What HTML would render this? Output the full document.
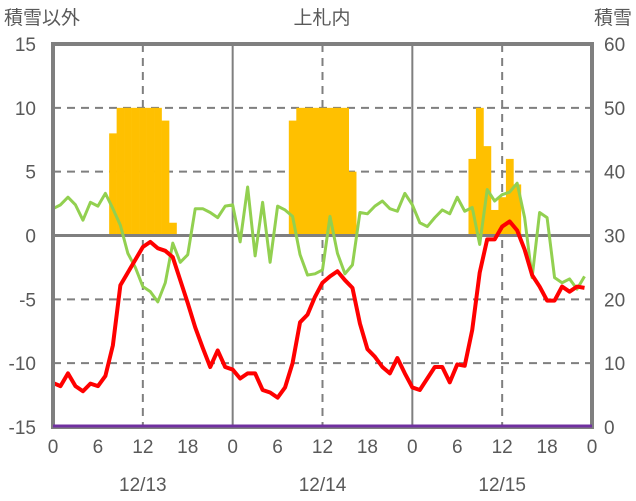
<!DOCTYPE html>
<html><head><meta charset="utf-8"><style>
html,body{margin:0;padding:0;background:#fff;width:636px;height:501px;overflow:hidden}
text{font-family:"Liberation Sans","Noto Sans CJK JP",sans-serif;fill:#595959;font-size:19px}
</style></head><body>
<svg id="chart" width="636" height="501" viewBox="0 0 636 501" xmlns="http://www.w3.org/2000/svg">
<text x="4" y="24" style="font-family:'Noto Sans CJK JP',sans-serif">積雪以外</text>
<text x="322" y="24" text-anchor="middle" style="font-family:'Noto Sans CJK JP',sans-serif">上札内</text>
<text x="632" y="24" text-anchor="end" style="font-family:'Noto Sans CJK JP',sans-serif">積雪</text>
<g id="grid"></g><g id="bars"></g><g id="lines"></g><g id="frame"></g><g id="labels"></g>
</svg>
<script>
const hours = Array.from({length:72},(_,i)=>i);
const leftTicks = [15,10,5,0,-5,-10,-15];
const rightTicks = [60,50,40,30,20,10,0];
const xTickLabels = ["0","6","12","18","0","6","12","18","0","6","12","18","0"];
const dateLabels = ["12/13","12/14","12/15"];
const snowHours = [8,9,10,11,12,13,14,15,16,32,33,34,35,36,37,38,39,40,56,57,58,59,60,61,62];
const snowDepth = [46,50,50,50,50,50,50,48,32,48,50,50,50,50,50,50,50,40,42,50,44,34,36,42,38];
const temperature = [-11.55,-11.8,-10.8,-11.8,-12.2,-11.6,-11.8,-11.0,-8.6,-3.9,-2.9,-1.9,-0.9,-0.5,-1.0,-1.2,-1.7,-3.5,-5.3,-7.2,-8.8,-10.3,-9.0,-10.3,
-10.5,-11.2,-10.8,-10.8,-12.1,-12.3,-12.7,-11.9,-10.0,-6.8,-6.2,-4.8,-3.7,-3.2,-2.8,-3.5,-4.1,-6.9,-8.9,-9.5,-10.3,-10.8,-9.6,-10.8,
-11.9,-12.1,-11.2,-10.3,-10.3,-11.5,-10.1,-10.2,-7.4,-2.9,-0.3,-0.3,0.7,1.1,0.4,-1.1,-3.1,-4.0,-5.1,-5.1,-4.0,-4.4,-4.0,-4.1];
const otherSeries = [2.1,2.4,3.0,2.4,1.2,2.6,2.3,3.3,2.1,0.8,-1.4,-2.5,-4.0,-4.4,-5.2,-3.7,-0.6,-2.1,-1.5,2.1,2.1,1.8,1.4,2.3,
2.4,-0.5,3.8,-1.6,2.6,-2.1,2.3,2.0,1.5,-1.5,-3.1,-3.0,-2.7,1.5,-1.4,-3.0,-2.3,1.8,1.7,2.3,2.7,2.1,1.9,3.3,
2.4,1.0,0.7,1.4,2.0,1.7,3.0,1.9,2.2,-0.7,3.6,2.7,3.2,3.4,4.1,1.4,-3.3,1.8,1.4,-3.3,-3.7,-3.4,-4.2,-3.2];

const L=53,R=592,T=44,B=427;
const x=h=>L+h*(R-L)/72;
const yL=v=>B-(v+15)*(B-T)/30;
const yR=v=>B-v*(B-T)/60;
const NS="http://www.w3.org/2000/svg";
function mk(tag,attrs,parent){const e=document.createElementNS(NS,tag);for(const k in attrs)e.setAttribute(k,attrs[k]);parent.appendChild(e);return e;}
const grid=document.getElementById('grid'),bars=document.getElementById('bars'),lines=document.getElementById('lines'),frame=document.getElementById('frame'),labels=document.getElementById('labels');
[10,5,-5,-10].forEach(v=>{
  const d=mk('line',{x1:L,x2:R,y1:yL(v),y2:yL(v),stroke:'#7f7f7f','stroke-width':2,'stroke-dasharray':'8,6'},grid);
  
  
});
[12,36,60].forEach(h=>{
  const d=mk('line',{x1:x(h),x2:x(h),y1:T,y2:B,stroke:'#7f7f7f','stroke-width':2,'stroke-dasharray':'8,6'},grid);
  
  
});
[24,48].forEach(h=>{
  const d=mk('line',{x1:x(h),x2:x(h),y1:T,y2:B,stroke:'#7f7f7f','stroke-width':2},grid);
  
  
});
const bw=(R-L)/72;
const base=yR(30);
snowHours.forEach((h,i)=>{
  const r=mk('rect',{x:x(h)-bw/2,y:yR(snowDepth[i]),width:bw+0.3,height:base-yR(snowDepth[i]),fill:'#ffc000'},bars);
  
  
});
const z=mk('line',{x1:L,x2:R,y1:yL(0),y2:yL(0),stroke:'#7f7f7f','stroke-width':3},bars);


const p1=mk('polyline',{points:hours.map(h=>x(h)+','+yL(otherSeries[h])).join(' '),fill:'none',stroke:'#92d050','stroke-width':3,'stroke-linejoin':'round'},lines);


const p2=mk('polyline',{points:hours.map(h=>x(h)+','+yL(temperature[h])).join(' '),fill:'none',stroke:'#ff0000','stroke-width':4,'stroke-linejoin':'round'},lines);


const fr=mk('rect',{x:L,y:T,width:R-L,height:B-T,fill:'none',stroke:'#7f7f7f','stroke-width':4},frame);


const pl=mk('line',{x1:L,x2:R,y1:B-1,y2:B-1,stroke:'#7030a0','stroke-width':3},frame);


leftTicks.forEach(v=>{
  const t=mk('text',{x:36,y:yL(v)+7,'text-anchor':'end'},labels);t.textContent=v;
  
  
});
rightTicks.forEach(v=>{
  const t=mk('text',{x:604,y:yR(v)+7},labels);t.textContent=v;
  
  
});
xTickLabels.forEach((s,i)=>{
  const t=mk('text',{x:x(i*6),y:453,'text-anchor':'middle'},labels);t.textContent=s;
  
  
});
dateLabels.forEach((s,i)=>{
  const t=mk('text',{x:x(12+24*i),y:491,'text-anchor':'middle'},labels);t.textContent=s;
  
  
});
</script>
</body></html>
